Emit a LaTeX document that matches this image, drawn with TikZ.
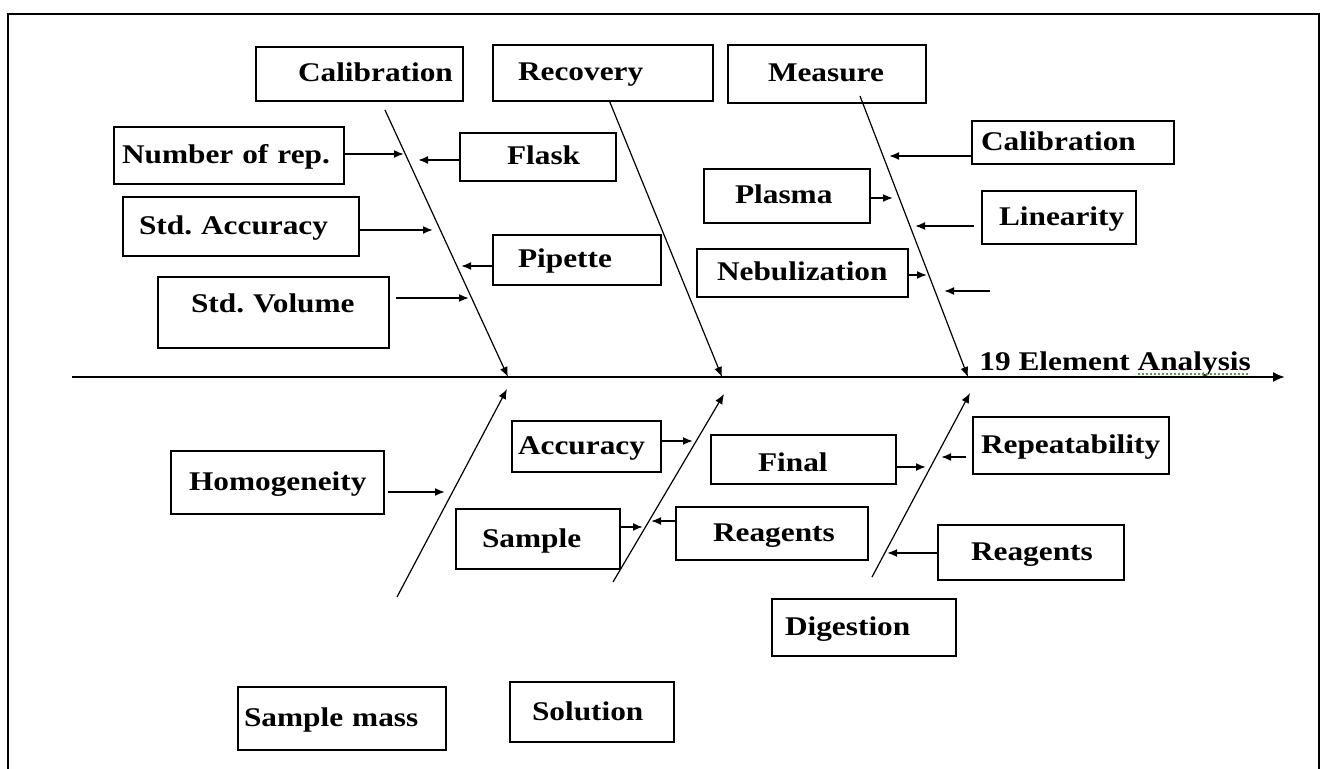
\documentclass[tikz,border=0pt]{standalone}
\usepackage{fontspec}
\setmainfont{Liberation Serif}[FakeStretch=1.16]
\usetikzlibrary{arrows.meta}
\definecolor{spellgreen}{RGB}{80,160,60}
\tikzset{
  cause/.style={draw, line width=1pt, anchor=north west, inner xsep=0pt, inner ysep=0pt,
    align=left, text height=10.5pt, text depth=2.5pt, font=\fontsize{13.5}{15}\selectfont\bfseries},
  bone/.style={line width=0.6pt, -{Latex[length=5pt,width=4pt]}},
  feed/.style={line width=0.9pt, -{Latex[length=5pt,width=4pt]}},
  spine/.style={line width=1pt, -{Latex[length=6pt,width=5pt]}}
}

\begin{document}
\begin{tikzpicture}[x=0.5pt, y=-0.5pt]
\useasboundingbox (0,0) rectangle (1322,769);
\draw[line width=1.2pt] (8,775) -- (8,14) -- (1319,14) -- (1319,775);

% main categories
\node[cause, text width=103.5pt, minimum height=27pt] (calib) at (255,46) {\hspace*{21pt}Calibration};
\node[cause, text width=110pt, minimum height=28pt] (recov) at (492,44) {\hspace*{12.5pt}Recovery};
\node[cause, text width=99pt, minimum height=29pt] (meas) at (727,44) {\hspace*{20pt}Measure};
\node[cause, text width=104pt, minimum height=31.5pt] (smass) at (237,686) {\hspace*{3pt}Sample mass};
\node[cause, text width=82pt, minimum height=30pt] (sol) at (509,681) {\hspace*{11pt}Solution};
\node[cause, text width=92pt, minimum height=28.5pt] (dig) at (771,598) {\hspace*{6.5pt}Digestion};

% sub causes
\node[cause, text width=115pt, minimum height=28.5pt] (nrep) at (113,126) {\hspace*{4pt}Number of rep.};
\node[cause, text width=78pt, minimum height=24pt] (flask) at (459,132) {\hspace*{23.5pt}Flask};
\node[cause, text width=118pt, minimum height=29.5pt] (stdacc) at (122,196) {\hspace*{8pt}Std.\ Accuracy};
\node[cause, text width=84pt, minimum height=25pt] (pip) at (492,234) {\hspace*{12.5pt}Pipette};
\node[cause, text width=115.5pt, minimum height=35.5pt, text depth=10.5pt] (stdvol) at (157,276) {\hspace*{16.5pt}Std.\ Volume};
\node[cause, text width=101pt, minimum height=21.5pt] (calR) at (971,120) {\hspace*{4.5pt}Calibration};
\node[cause, text width=83pt, minimum height=27pt] (plasma) at (703,168) {\hspace*{15.5pt}Plasma};
\node[cause, text width=77pt, minimum height=26.5pt] (lin) at (981,190) {\hspace*{8.5pt}Linearity};
\node[cause, text width=105.5pt, minimum height=24pt] (neb) at (696,248) {\hspace*{10pt}Nebulization};
\node[cause, text width=106.5pt, minimum height=31.5pt] (homog) at (170,450) {\hspace*{9pt}Homogeneity};
\node[cause, text width=74.5pt, minimum height=25.5pt] (accur) at (511,420) {\hspace*{3pt}Accuracy};
\node[cause, text width=82pt, minimum height=30pt] (sample) at (455,508) {\hspace*{13pt}Sample};
\node[cause, text width=96pt, minimum height=26.5pt] (reagM) at (675,506) {\hspace*{18.5pt}Reagents};
\node[cause, text width=92.5pt, minimum height=24.5pt, text height=15pt] (final) at (710,434) {\hspace*{23.5pt}Final};
\node[cause, text width=98pt, minimum height=28.5pt] (rep) at (972,416) {\hspace*{4pt}Repeatability};
\node[cause, text width=93pt, minimum height=27.5pt] (reagR) at (937,524) {\hspace*{16.5pt}Reagents};

% spine and effect
\coordinate (spS) at (72,377);
\coordinate (spE) at (1285,377);
\draw[spine] (spS) -- (spE);
\node[anchor=base west, inner sep=0pt, font=\fontsize{13.5}{15}\selectfont\bfseries] (effect) at (979,371) {19 Element Analysis};
\draw[spellgreen, densely dotted, line width=1pt] (1138,374) -- (1249,374);

% bones
\coordinate (b1s) at (385,110);  \coordinate (b1e) at (508,377);
\coordinate (b2s) at (609,100);  \coordinate (b2e) at (722,377);
\coordinate (b3s) at (860,96);   \coordinate (b3e) at (968,377);
\coordinate (b4s) at (397,597);  \coordinate (b4e) at (507,389);
\coordinate (b5s) at (613,582);  \coordinate (b5e) at (724,394);
\coordinate (b6s) at (872,577);  \coordinate (b6e) at (970,393);
\foreach \i in {1,...,6}
  \draw[bone] (b\i s) -- (b\i e);

% arrow tips on the bones
\coordinate (tnrep) at (404,154);
\coordinate (tflask) at (418,160);
\coordinate (tstdacc) at (433,230);
\coordinate (tpip) at (461,266);
\coordinate (tstdvol) at (469,298);
\coordinate (tcalR) at (889,156);
\coordinate (tplasma) at (893,198);
\coordinate (tlin) at (915,226);
\coordinate (tneb) at (927,275);
\coordinate (fS) at (990,291);
\coordinate (fE) at (944,291);
\coordinate (thomog) at (445,492);
\coordinate (taccur) at (693,441);
\coordinate (tsample) at (643,527);
\coordinate (treagM) at (651,521);
\coordinate (tfinal) at (926,467);
\coordinate (trep) at (941,457);
\coordinate (treagR) at (887,553);

\draw[feed] (nrep.east |- tnrep) -- (tnrep);
\draw[feed] (flask.west |- tflask) -- (tflask);
\draw[feed] (stdacc.east |- tstdacc) -- (tstdacc);
\draw[feed] (pip.west |- tpip) -- (tpip);
\draw[feed, shorten <=3pt] (stdvol.east |- tstdvol) -- (tstdvol);
\draw[feed] (calR.west |- tcalR) -- (tcalR);
\draw[feed] (plasma.east |- tplasma) -- (tplasma);
\draw[feed, shorten <=3.5pt] (lin.west |- tlin) -- (tlin);
\draw[feed] (neb.east |- tneb) -- (tneb);
\draw[feed] (fS) -- (fE);
\draw[feed, shorten <=1.5pt] (homog.east |- thomog) -- (thomog);
\draw[feed] (accur.east |- taccur) -- (taccur);
\draw[feed] (sample.east |- tsample) -- (tsample);
\draw[feed] (reagM.west |- treagM) -- (treagM);
\draw[feed] (final.east |- tfinal) -- (tfinal);
\draw[feed, shorten <=3pt] (rep.west |- trep) -- (trep);
\draw[feed] (reagR.west |- treagR) -- (treagR);
\end{tikzpicture}
\end{document}
